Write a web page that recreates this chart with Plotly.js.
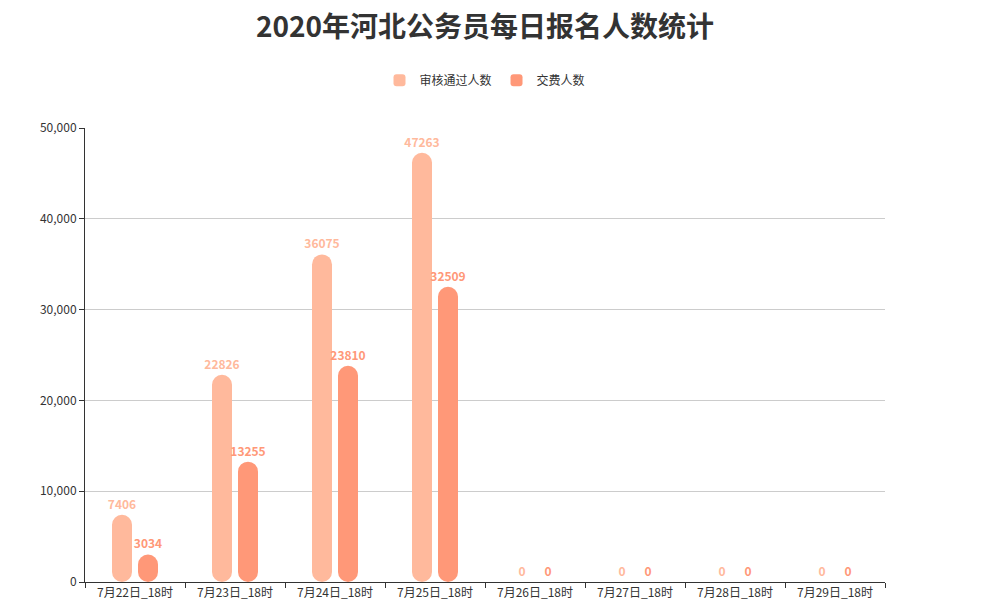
<!DOCTYPE html>
<html>
<head>
<meta charset="utf-8">
<script src="https://cdn.plot.ly/plotly-3.0.1.min.js"></script>
<style>html,body{margin:0;padding:0;background:#fff;}#chart{width:1000px;height:615px;}</style>
</head>
<body>
<div id="chart"></div>
<script>
const categories = ['7月22日_18时','7月23日_18时','7月24日_18时','7月25日_18时','7月26日_18时','7月27日_18时','7月28日_18时','7月29日_18时'];
const approved = [7406, 22826, 36075, 47263, 0, 0, 0, 0];
const paid = [3034, 13255, 23810, 32509, 0, 0, 0, 0];
const seriesNames = ['审核通过人数', '交费人数'];
const colors = ['#FFB99C', '#FF9878'];

const FONT = '"Noto Sans CJK SC", "Noto Sans", sans-serif';
const traces = [];
[[approved, -0.23], [paid, 0.03]].forEach(([vals, off], i) => {
  traces.push({
    type: 'bar', x: categories, y: vals, base: vals.map(() => 0),
    width: 0.2, offset: off,
    name: seriesNames[i], marker: {color: colors[i]},
    text: vals.map(String), textposition: 'outside', cliponaxis: false, constraintext: 'none',
    textfont: {color: colors[i], size: 12, family: FONT, weight: 'bold'},
    hoverinfo: 'skip'
  });
});

const layout = {
  width: 1000, height: 615,
  margin: {l: 85, r: 115, t: 128, b: 33},
  paper_bgcolor: '#fff', plot_bgcolor: '#fff',
  font: {family: FONT, color: '#333', size: 12},
  title: {text: '2020年河北公务员每日报名人数统计', x: 0.5, xref: 'paper', xanchor: 'center', y: 0.955, yanchor: 'middle',
          font: {size: 28, color: '#333', family: FONT, weight: 'bold'}},
  barmode: 'overlay',
  barcornerradius: 10,
  showlegend: true,
  legend: {orientation: 'h', x: 0.5, xanchor: 'center', y: 1.105, yanchor: 'middle', xref: 'paper',
           font: {size: 12, color: '#333', family: FONT}, itemclick: false, traceorder: 'normal'},
  xaxis: {type: 'category', tickson: 'boundaries', ticks: 'outside', ticklen: 5, tickcolor: '#333',
          showline: true, linecolor: '#333', linewidth: 1, showgrid: false, fixedrange: true,
          tickfont: {size: 12, color: '#333'}},
  yaxis: {range: [0, 50000], tickvals: [0, 10000, 20000, 30000, 40000, 50000], tickformat: ',d',
          ticks: 'outside', ticklen: 5, tickcolor: '#333', showline: true, linecolor: '#333', linewidth: 1,
          showgrid: true, gridcolor: '#ccc', zeroline: false, fixedrange: true,
          tickfont: {size: 12, color: '#333'}}
};

Plotly.newPlot('chart', traces, layout, {displayModeBar: false, staticPlot: true});
</script>
</body>
</html>
